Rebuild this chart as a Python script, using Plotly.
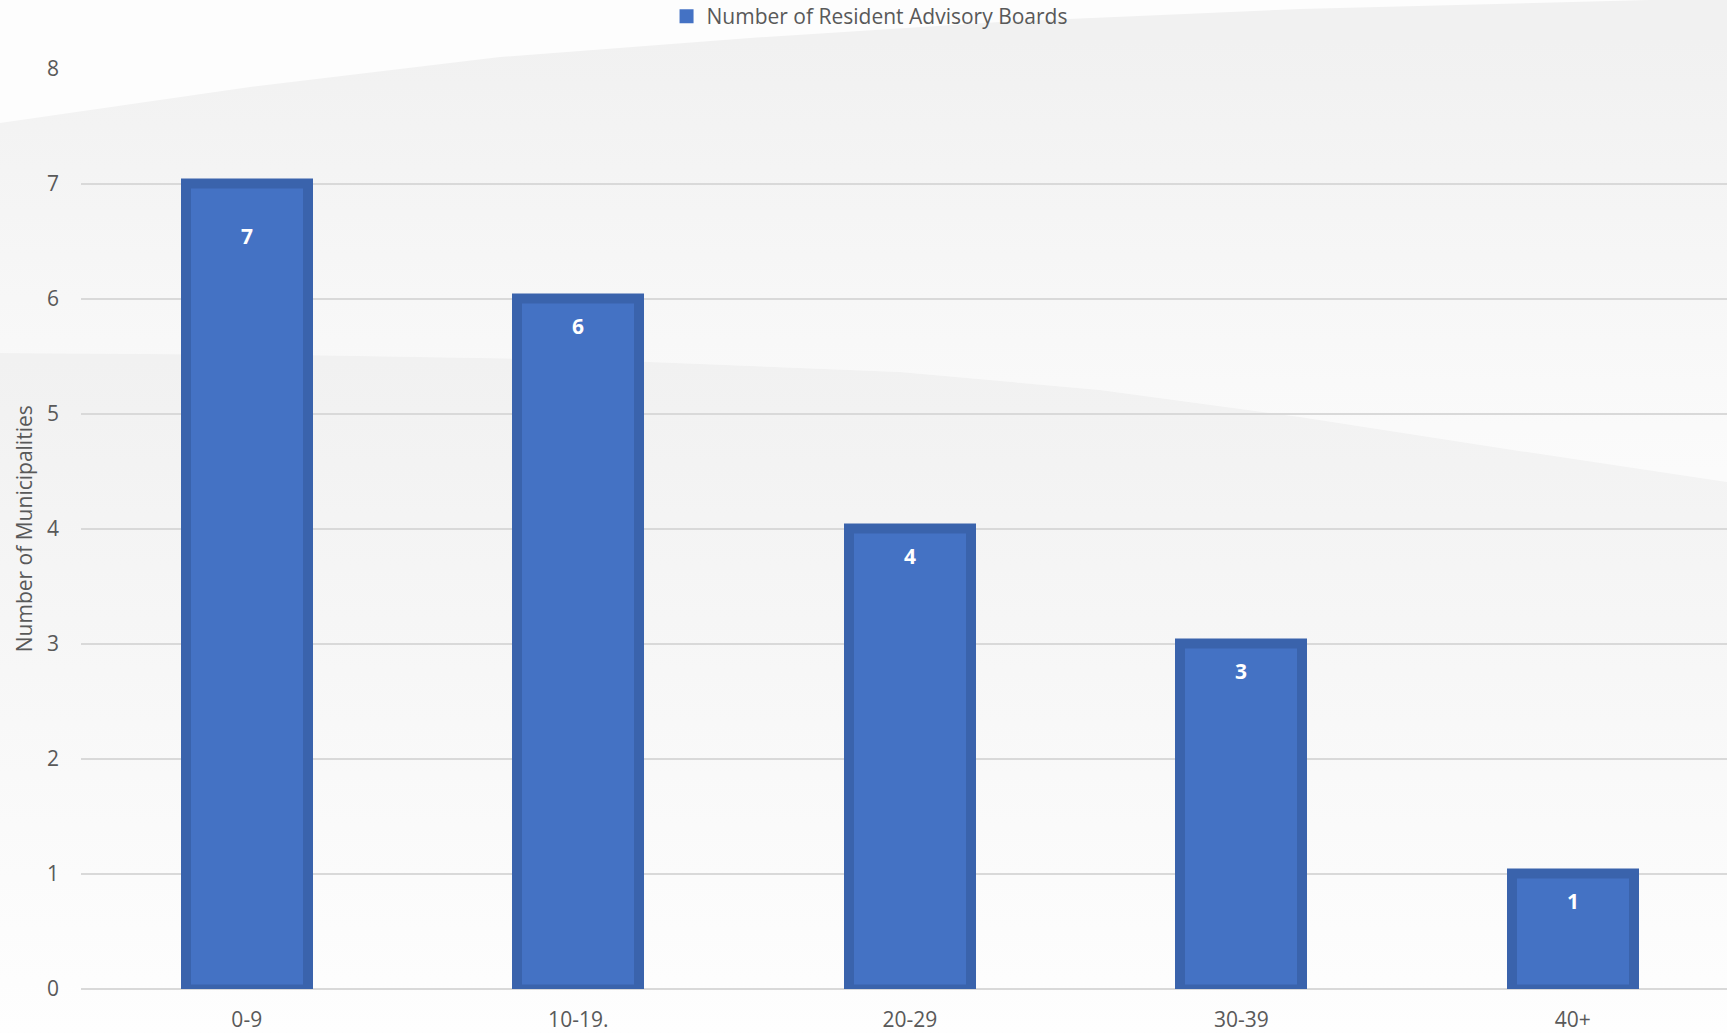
import plotly.graph_objects as go

# ---- data ----
categories = ["0-9", "10-19.", "20-29", "30-39", "40+"]
values = [7, 6, 4, 3, 1]
series_name = "Number of Resident Advisory Boards"
y_title = "Number of Municipalities"
y_ticks = [0, 1, 2, 3, 4, 5, 6, 7, 8]

# ---- style ----
W, H = 1727, 1033
FONT = "Open Sans"
FS = 21
TXT = "#595959"
BAR = "#4472C4"
BAR_EDGE = "#3A63AC"
GRID = "#D9D9D9"
label_shift = [-52, -27, -27, -27, -27]

# background decorative curves (pixel coordinates of the page)
top_curve = [(0, 123), (250, 87), (500, 57), (750, 38), (1000, 22), (1300, 9), (1727, -2)]
low_curve = [(0, 353), (300, 355), (600, 360), (900, 372), (1100, 390), (1300, 417), (1500, 448), (1727, 482)]

fig = go.Figure()

# upper grey sweep
ux = [p[0] for p in top_curve] + [p[0] for p in reversed(low_curve)]
uy = [p[1] for p in top_curve] + [p[1] for p in reversed(low_curve)]
fig.add_trace(go.Scatter(
    x=ux, y=uy, fill="toself", mode="lines", line=dict(width=0),
    fillgradient=dict(type="vertical", start=40, stop=470,
                      colorscale=[[0, "#f1f1f1"], [1, "#fbfbfb"]]),
    hoverinfo="skip", showlegend=False, xaxis="x", yaxis="y"))
# lower sweep
lx = [p[0] for p in low_curve] + [W, 0]
ly = [p[1] for p in low_curve] + [H, H]
fig.add_trace(go.Scatter(
    x=lx, y=ly, fill="toself", mode="lines", line=dict(width=0),
    fillgradient=dict(type="vertical", start=360, stop=H,
                      colorscale=[[0, "#f1f1f1"], [1, "#fefefe"]]),
    hoverinfo="skip", showlegend=False, xaxis="x", yaxis="y"))

# bars
fig.add_trace(go.Bar(
    x=categories, y=values, width=0.368,
    marker=dict(color=BAR, line=dict(color=BAR_EDGE, width=10)),
    showlegend=False, xaxis="x2", yaxis="y2", hoverinfo="x+y"))
# legend entry
fig.add_trace(go.Scatter(
    x=[None], y=[None], mode="markers", name=series_name,
    marker=dict(symbol="square", size=14, color=BAR),
    xaxis="x2", yaxis="y2"))

for c, v, s in zip(categories, values, label_shift):
    fig.add_annotation(x=c, y=v, xref="x2", yref="y2", text=f"<b>{v}</b>",
                       showarrow=False, yanchor="middle", yshift=s,
                       font=dict(family=FONT, size=FS, color="white"))

fig.update_layout(
    width=W, height=H, autosize=False,
    margin=dict(l=0, r=0, t=0, b=0, autoexpand=False),
    paper_bgcolor="#fdfdfd", plot_bgcolor="rgba(0,0,0,0)",
    font=dict(family=FONT, size=FS, color=TXT),
    xaxis=dict(domain=[0, 1], range=[0, W], visible=False, fixedrange=True),
    yaxis=dict(domain=[0, 1], range=[H, 0], visible=False, fixedrange=True),
    xaxis2=dict(domain=[81 / W, 1], anchor="y2", type="category",
                range=[-0.5, 4.465], showgrid=False, showline=False,
                tickfont=dict(family=FONT, size=FS, color=TXT),
                ticklabelstandoff=16, ticks=""),
    yaxis2=dict(domain=[44 / H, 1 - 68.5 / H], anchor="x2", range=[0, 8],
                tickvals=y_ticks, showgrid=True, gridcolor=GRID, gridwidth=2,
                zeroline=True, zerolinecolor=GRID, zerolinewidth=2,
                showline=False, ticks="",
                tickfont=dict(family=FONT, size=FS, color=TXT),
                ticklabelstandoff=21,
                title=dict(text=y_title, standoff=8,
                           font=dict(family=FONT, size=FS, color=TXT))),
    legend=dict(orientation="h", x=0.5035, xanchor="center", y=1 - 16.5 / H,
                yanchor="middle", yref="container", itemwidth=30,
                bgcolor="rgba(0,0,0,0)",
                font=dict(family=FONT, size=FS, color=TXT)),
    bargap=0,
)

fig.write_html("out.html", config={"displayModeBar": False},
               post_script="document.body.style.margin='0';")
